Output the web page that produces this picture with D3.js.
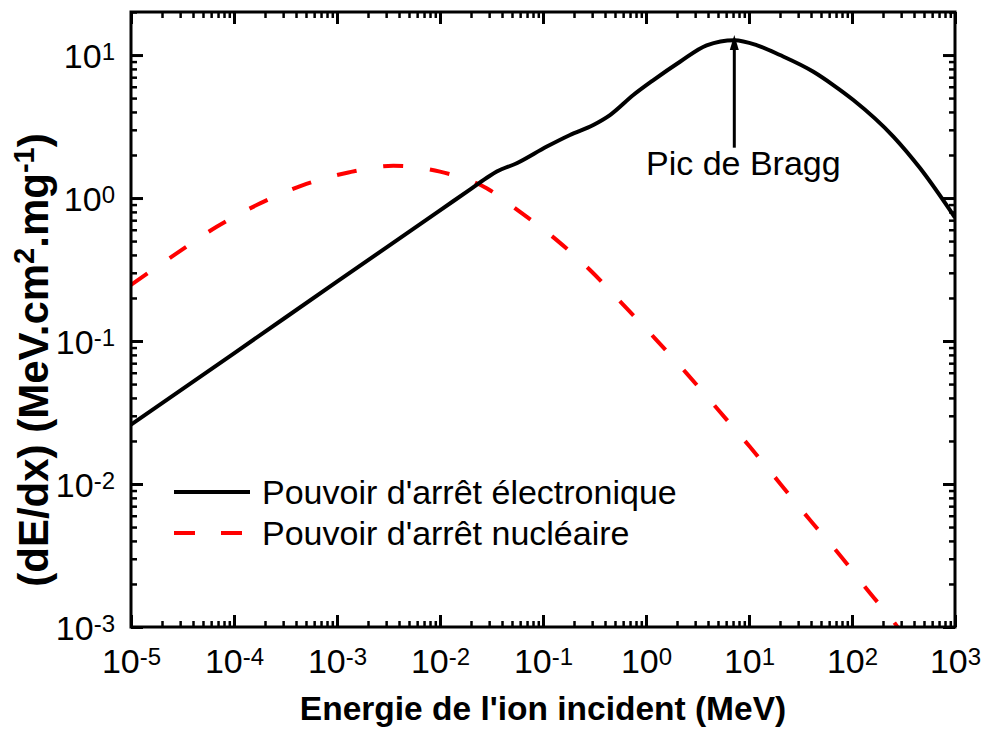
<!DOCTYPE html>
<html>
<head>
<meta charset="utf-8">
<script src="https://cdn.jsdelivr.net/npm/d3@7"></script>
<style>
  html, body { margin: 0; padding: 0; background: #fff; }
  svg { display: block; font-family: "Liberation Sans", Arial, Helvetica, sans-serif; }
</style>
</head>
<body>
<svg id="chart" width="982" height="733"></svg>
<script>
// Electronic stopping power (MeV, MeV.cm2/mg)
const elecEnergy = [1e-5, 1e-4, 1e-3, 1e-2, 0.02, 0.03, 0.0356, 0.0556, 0.109, 0.183, 0.308, 0.447, 0.753, 1.18, 2.14, 3.88, 7.2, 12, 20, 42.2, 65.8, 103, 252, 457, 1000];
const elecValue  = [0.026, 0.082, 0.26, 0.82, 1.16, 1.42, 1.53, 1.75, 2.29, 2.76, 3.24, 3.80, 5.25, 6.68, 8.98, 11.7, 12.7, 11.7, 10.0, 7.64, 6.17, 4.85, 2.69, 1.62, 0.73];

// Nuclear stopping power (MeV, MeV.cm2/mg)
const nuclEnergy = [1e-5, 2.77e-5, 6.79e-5, 1.66e-4, 4.54e-4, 1.29e-3, 3.52e-3, 0.01, 0.0284, 0.0598, 0.136, 0.286, 0.603, 1.22, 2.48, 5.04, 10.2, 20, 39.1, 76.4, 150, 261, 300];
const nuclValue  = [0.247, 0.41, 0.63, 0.893, 1.22, 1.51, 1.68, 1.53, 1.17, 0.80, 0.508, 0.314, 0.179, 0.1045, 0.0594, 0.0329, 0.0182, 0.0101, 0.0056, 0.00318, 0.00172, 0.00106, 0.00092];

// Axis decades
const xTickExp = [-5, -4, -3, -2, -1, 0, 1, 2, 3];
const yTickExp = [-3, -2, -1, 0, 1];

// Texts
const seriesNames = ["Pouvoir d'arrêt électronique", "Pouvoir d'arrêt nucléaire"];
const xTitle = "Energie de l'ion incident (MeV)";
const braggLabel = "Pic de Bragg";
const braggEnergy = 7.2;
const braggArrow = [2.25, 13.8];   // arrow tail / tip values

const plot = { left: 131, right: 955, top: 12, bottom: 627 };

const svg = d3.select("#chart");

const x = d3.scaleLog().domain([1e-5, 1e3]).range([plot.left, plot.right]);
const y = d3.scaleLog().domain([1e-3, 20]).range([plot.bottom, plot.top]);

// minor tick positions (2..9 within each decade)
const minorX = [];
for (let e = -5; e < 3; e++) for (let m = 2; m <= 9; m++) minorX.push(m * Math.pow(10, e));
const minorY = [];
for (let e = -3; e < 1; e++) for (let m = 2; m <= 9; m++) minorY.push(m * Math.pow(10, e));
minorY.push(20);
const majorX = xTickExp.map(e => Math.pow(10, e));
const majorY = yTickExp.map(e => Math.pow(10, e));

function styleAxis(g, width) {
  g.select(".domain").remove();
  g.selectAll("line").attr("stroke", "#000").attr("stroke-width", width);
}

// inward ticks on all four sides, labels on bottom and left
[
  [d3.axisBottom, x, plot.bottom, true, "x"],
  [d3.axisTop, x, plot.top, false, "x"],
  [d3.axisLeft, y, plot.left, true, "y"],
  [d3.axisRight, y, plot.right, false, "y"]
].forEach(([mk, sc, pos, labelled, dim]) => {
  const tr = dim === "x" ? `translate(0,${pos})` : `translate(${pos},0)`;
  const minors = dim === "x" ? minorX : minorY;
  const majors = dim === "x" ? majorX : majorY;
  svg.append("g").attr("transform", tr)
    .call(mk(sc).tickValues(minors).tickSizeInner(-6).tickSizeOuter(0).tickFormat(""))
    .call(g => styleAxis(g, 2.5))
    .selectAll("text").remove();
  const g = svg.append("g").attr("transform", tr)
    .call(mk(sc).tickValues(majors).tickSizeInner(-12).tickSizeOuter(0).tickFormat(""))
    .call(g => styleAxis(g, 3));
  g.selectAll("text").remove();
  if (labelled) {
    g.selectAll(".tick").each(function(d) {
      const exp = Math.round(Math.log10(d));
      const t = d3.select(this).append("text")
        .attr("fill", "#000")
        .attr("font-size", 34);
      if (dim === "x") {
        t.attr("text-anchor", "middle").attr("x", 0).attr("y", 673 - plot.bottom);
      } else {
        t.attr("text-anchor", "end").attr("x", 115 - plot.left).attr("y", 12);
      }
      t.append("tspan").text("10");
      t.append("tspan").attr("font-size", 24).attr("dy", -8).text(String(exp));
    });
  }
});

// clip to plot area
svg.append("clipPath").attr("id", "plotClip")
  .append("rect")
  .attr("x", plot.left).attr("y", plot.top)
  .attr("width", plot.right - plot.left).attr("height", plot.bottom - plot.top);

const line = d3.line()
  .x(d => x(d[0]))
  .y(d => y(d[1]))
  .curve(d3.curveMonotoneX);

const elec = elecEnergy.map((e, i) => [e, elecValue[i]]);
const nucl = nuclEnergy.map((e, i) => [e, nuclValue[i]]);

const curves = svg.append("g").attr("clip-path", "url(#plotClip)");
curves.append("path").datum(nucl)
  .attr("d", line)
  .attr("fill", "none")
  .attr("stroke", "#ff0000")
  .attr("stroke-width", 4)
  .attr("stroke-dasharray", "20,27");
curves.append("path").datum(elec)
  .attr("d", line)
  .attr("fill", "none")
  .attr("stroke", "#000")
  .attr("stroke-width", 4);

// frame
svg.append("rect")
  .attr("x", plot.left).attr("y", plot.top)
  .attr("width", plot.right - plot.left).attr("height", plot.bottom - plot.top)
  .attr("fill", "none").attr("stroke", "#000").attr("stroke-width", 3);

// Bragg peak arrow
const ax = x(braggEnergy);
const tipY = y(braggArrow[1]);
svg.append("line")
  .attr("x1", ax).attr("x2", ax)
  .attr("y1", y(braggArrow[0])).attr("y2", tipY + 10)
  .attr("stroke", "#000").attr("stroke-width", 3);
svg.append("path")
  .attr("d", `M${ax},${tipY} L${ax - 4.5},${tipY + 15} L${ax + 4.5},${tipY + 15} Z`)
  .attr("fill", "#000");
svg.append("text")
  .attr("x", ax + 9).attr("y", 175)
  .attr("text-anchor", "middle")
  .attr("font-size", 34)
  .text(braggLabel);

// legend
const legend = svg.append("g");
legend.append("line")
  .attr("x1", 174).attr("x2", 250).attr("y1", 492).attr("y2", 492)
  .attr("stroke", "#000").attr("stroke-width", 4);
legend.append("line")
  .attr("x1", 174).attr("x2", 244).attr("y1", 533).attr("y2", 533)
  .attr("stroke", "#ff0000").attr("stroke-width", 4)
  .attr("stroke-dasharray", "21,26");
legend.append("text").attr("x", 262).attr("y", 504)
  .attr("font-size", 34).text(seriesNames[0]);
legend.append("text").attr("x", 262).attr("y", 545)
  .attr("font-size", 34).text(seriesNames[1]);

// axis titles
svg.append("text")
  .attr("x", (plot.left + plot.right) / 2).attr("y", 720)
  .attr("text-anchor", "middle")
  .attr("font-size", 33.5).attr("font-weight", "bold")
  .text(xTitle);

const yt = svg.append("text")
  .attr("transform", "translate(48,360) rotate(-90)")
  .attr("text-anchor", "middle")
  .attr("font-size", 42).attr("font-weight", "bold");
yt.append("tspan").text("(dE/dx) (MeV.cm");
yt.append("tspan").attr("font-size", 29).attr("dy", -14).text("2");
yt.append("tspan").attr("dy", 14).text(".mg");
yt.append("tspan").attr("font-size", 29).attr("dy", -14).text("-1");
yt.append("tspan").attr("dy", 14).text(")");
</script>
</body>
</html>
